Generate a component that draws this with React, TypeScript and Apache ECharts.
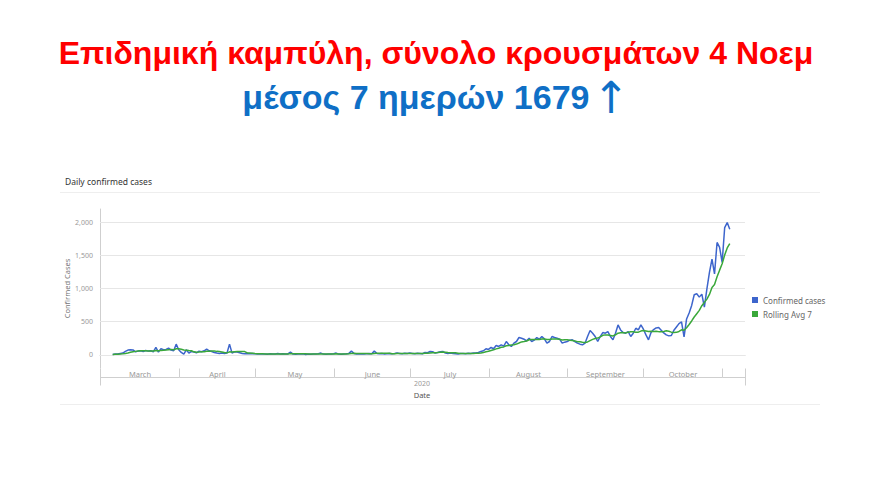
import React, { useEffect, useRef } from "react";
import * as echarts from "echarts";

// Daily confirmed cases, 6 March 2020 onwards, one array per month
const casesMar = [5, 10, 12, 20, 25, 50, 70, 75, 72, 45, 55, 60, 50, 65, 55, 60, 45, 110, 40, 90, 75, 80, 100, 70, 60, 160];
const casesApr = [75, 35, 10, 75, 25, 50, 40, 30, 55, 45, 60, 85, 60, 50, 35, 25, 20, 25, 20, 25, 160, 25, 45, 40, 30, 20, 15, 20, 15, 20];
const casesMay = [15, 10, 15, 10, 12, 8, 15, 10, 12, 20, 10, 15, 10, 12, 40, 10, 8, 12, 10, 15, 5, 10, 8, 12, 10, 15, 25, 10, 8, 12, 10];
const casesJun = [15, 25, 10, 8, 12, 15, 20, 55, 20, 10, 15, 12, 10, 15, 20, 15, 55, 20, 15, 18, 12, 15, 20, 15, 18, 25, 20, 15, 22, 18];
const casesJul = [25, 20, 15, 22, 20, 15, 35, 30, 50, 45, 25, 35, 45, 50, 25, 20, 25, 20, 15, 10, 18, 20, 15, 22, 20, 25, 25, 35, 50, 60, 90];
const casesAug = [80, 110, 90, 140, 125, 150, 130, 200, 150, 125, 175, 200, 260, 250, 235, 210, 250, 200, 220, 260, 235, 275, 240, 175, 200, 275, 260, 250, 235, 175, 190];
const casesSep = [200, 220, 225, 200, 175, 160, 150, 175, 275, 365, 325, 275, 200, 275, 335, 325, 350, 275, 225, 325, 450, 375, 335, 325, 350, 275, 325, 400, 375, 450];
const casesOct = [385, 300, 225, 335, 380, 405, 410, 370, 330, 300, 285, 290, 370, 420, 470, 495, 270, 540, 630, 745, 905, 920, 870, 915, 720, 995, 1245, 1445, 1220, 1695, 1620];
const casesNov = [1395, 1920, 1995, 1895];

// 7-day rolling average, same days
const avgMar = [5, 8, 9, 12, 14, 20, 27, 37, 46, 51, 56, 61, 61, 60, 57, 56, 56, 64, 61, 66, 68, 71, 77, 81, 74, 91];
const avgApr = [89, 83, 73, 69, 63, 61, 44, 38, 41, 46, 44, 52, 54, 55, 56, 51, 48, 43, 34, 29, 44, 43, 46, 49, 49, 49, 48, 28, 26, 23];
const avgMay = [19, 16, 16, 15, 12, 12, 12, 12, 12, 13, 12, 13, 13, 13, 17, 16, 15, 15, 15, 15, 14, 10, 10, 10, 10, 10, 12, 13, 13, 13, 13];
const avgJun = [13, 14, 13, 12, 13, 13, 15, 20, 21, 20, 20, 20, 20, 20, 15, 14, 20, 21, 21, 22, 21, 21, 21, 16, 16, 17, 18, 18, 19, 19];
const avgJul = [20, 20, 19, 20, 20, 19, 21, 22, 26, 30, 31, 34, 38, 41, 39, 35, 32, 31, 29, 24, 19, 18, 18, 17, 17, 19, 21, 23, 27, 34, 44];
const avgAug = [52, 64, 74, 89, 99, 112, 118, 135, 141, 146, 151, 161, 177, 194, 199, 208, 226, 229, 232, 232, 230, 236, 240, 229, 229, 237, 237, 239, 234, 224, 226];
const avgSep = [226, 219, 214, 206, 198, 196, 190, 186, 194, 214, 232, 246, 252, 270, 293, 300, 298, 291, 284, 301, 326, 332, 334, 330, 341, 348, 348, 341, 341, 357];
const avgOct = [366, 359, 351, 353, 350, 354, 349, 346, 351, 361, 354, 341, 336, 338, 352, 376, 371, 408, 456, 510, 570, 620, 670, 740, 790, 840, 910, 1016, 1059, 1176, 1277];
const avgNov = [1374, 1506, 1613, 1679];

// Month bands under the plot
const monthStarts = ["2020-03-01", "2020-04-01", "2020-05-01", "2020-06-01", "2020-07-01", "2020-08-01", "2020-09-01", "2020-10-01", "2020-11-01", "2020-11-10"];
const monthLabels = ["March", "April", "May", "June", "July", "August", "September", "October", ""];

const yTicks = [0, 500, 1000, 1500, 2000];

const TITLE_1 = "Επιδημική καμπύλη, σύνολο κρουσμάτων 4 Νοεμ";
const TITLE_2 = "μέσος 7 ημερών 1679";

const BLUE = "#3d65cc";
const GREEN = "#3aa83a";
const FONT = "'Noto Sans', 'DejaVu Sans', sans-serif";
const HEAD = "'Liberation Sans', Arial, sans-serif";

const ts = (s: string) => {
  const [y, m, d] = s.split("-").map(Number);
  return new Date(y, m - 1, d).getTime();
};
const dayTs = (i: number) => new Date(2020, 2, 6 + i).getTime();

const cases = [...casesMar, ...casesApr, ...casesMay, ...casesJun, ...casesJul, ...casesAug, ...casesSep, ...casesOct, ...casesNov];
const rolling = [...avgMar, ...avgApr, ...avgMay, ...avgJun, ...avgJul, ...avgAug, ...avgSep, ...avgOct, ...avgNov];

export default function App() {
  const ref = useRef<HTMLDivElement>(null);

  useEffect(() => {
    if (!ref.current) return;
    const chart = echarts.init(ref.current, undefined, { renderer: "svg" });

    const bandData = monthLabels.map((_, i) => [ts(monthStarts[i]), ts(monthStarts[i + 1]), -200]);

    chart.setOption({
      animation: false,
      backgroundColor: "#ffffff",
      textStyle: { fontFamily: FONT },
      graphic: [
        {
          type: "text",
          x: 436,
          y: 53,
          style: {
            text: TITLE_1,
            fill: "#ff0000",
            font: `bold 32px ${HEAD}`,
            align: "center",
            verticalAlign: "middle",
          },
        },
        {
          type: "text",
          x: 436,
          y: 97,
          style: {
            text: `{t|${TITLE_2}} {a|↑}`,
            align: "center",
            verticalAlign: "middle",
            rich: {
              t: { fill: "#0f6fc6", font: `bold 34px ${HEAD}` },
              a: { fill: "#0f6fc6", font: `normal 44px 'DejaVu Sans', sans-serif` },
            },
          },
        },
        {
          type: "text",
          x: 65,
          y: 181,
          style: { text: "Daily confirmed cases", fill: "#333", font: `8.5px ${FONT}`, verticalAlign: "middle" },
        },
        { type: "line", shape: { x1: 60, y1: 192.5, x2: 820, y2: 192.5 }, style: { stroke: "#eeeeee", lineWidth: 1 } },
        { type: "line", shape: { x1: 60, y1: 404.5, x2: 820, y2: 404.5 }, style: { stroke: "#eeeeee", lineWidth: 1 } },
        {
          type: "text",
          x: 422,
          y: 383,
          style: { text: "2020", fill: "#999", font: `7px ${FONT}`, align: "center", verticalAlign: "middle" },
        },
        {
          type: "text",
          x: 422,
          y: 395,
          style: { text: "Date", fill: "#555", font: `7.5px ${FONT}`, align: "center", verticalAlign: "middle" },
        },
      ],
      legend: {
        data: ["Confirmed cases", "Rolling Avg 7"],
        orient: "vertical",
        left: 747,
        top: 291,
        icon: "rect",
        itemWidth: 6,
        itemHeight: 6,
        itemGap: 6,
        textStyle: { fontSize: 8, color: "#666", fontFamily: FONT },
      },
      grid: { left: 100, right: 135, top: 209, bottom: 127 },
      xAxis: {
        type: "time",
        min: ts(monthStarts[0]),
        max: ts(monthStarts[monthStarts.length - 1]),
        axisLine: { show: true, lineStyle: { color: "#cfcfcf" } },
        axisTick: { show: false },
        axisLabel: { show: false },
        splitLine: { show: false },
      },
      yAxis: {
        type: "value",
        min: -200,
        max: 2200,
        interval: 100,
        name: "Confirmed Cases",
        nameLocation: "middle",
        nameGap: 29,
        nameMoveOverlap: false,
        nameTextStyle: { fontSize: 7.5, color: "#777", fontFamily: FONT },
        axisLine: { show: true, lineStyle: { color: "#cfcfcf" } },
        axisTick: { show: false },
        splitLine: { show: false },
        axisLabel: {
          fontSize: 7,
          color: "#999",
          margin: 7,
          formatter: (v: number) => (yTicks.includes(v) ? v.toLocaleString("en-US") : ""),
        },
      },
      series: [
        {
          name: "Confirmed cases",
          type: "line",
          data: cases.map((v, i) => [dayTs(i), v]),
          showSymbol: false,
          symbol: "none",
          lineStyle: { color: BLUE, width: 1.5 },
          itemStyle: { color: BLUE },
          z: 3,
          markLine: {
            silent: true,
            z: 1,
            symbol: "none",
            label: { show: false },
            lineStyle: { color: "#e6e6e6", width: 1, type: "solid" },
            data: yTicks.map((v) => ({ yAxis: v })),
          },
        },
        {
          name: "Rolling Avg 7",
          type: "line",
          data: rolling.map((v, i) => [dayTs(i), v]),
          showSymbol: false,
          symbol: "none",
          lineStyle: { color: GREEN, width: 1.5 },
          itemStyle: { color: GREEN },
          z: 4,
        },
        {
          name: "months",
          type: "custom",
          silent: true,
          clip: false,
          data: bandData,
          encode: { x: [0, 1], y: 2 },
          renderItem: (params: any, api: any) => {
            const i = params.dataIndex;
            const p0 = api.coord([api.value(0), -200]);
            const p1 = api.coord([api.value(1), -200]);
            const x0 = Math.round(p0[0]) + 0.5;
            const x1 = Math.round(p1[0]) + 0.5;
            const top = Math.round(p0[1]) + 0.5;
            const bot = top + 9;
            const stroke = { stroke: "#cfcfcf", lineWidth: 1 };
            const last = i === monthLabels.length - 1;
            const children: any[] = [
              { type: "line", shape: { x1: x0, y1: top, x2: x0, y2: i === 0 ? top + 17 : bot }, style: stroke },
              { type: "line", shape: { x1: x0, y1: bot, x2: x1, y2: bot }, style: stroke },
            ];
            if (last) {
              children.push({ type: "line", shape: { x1: x1, y1: top, x2: x1, y2: top + 17 }, style: stroke });
            }
            if (monthLabels[i]) {
              children.push({
                type: "text",
                x: (x0 + x1) / 2,
                y: top + 5,
                style: {
                  text: monthLabels[i],
                  fill: "#999",
                  font: `7.5px ${FONT}`,
                  align: "center",
                  verticalAlign: "middle",
                },
              });
            }
            return { type: "group", children };
          },
        },
      ],
    });

    return () => chart.dispose();
  }, []);

  return (
    <div
      ref={ref}
      style={{ position: "fixed", left: 0, top: 0, width: 880, height: 495, background: "#fff" }}
    />
  );
}
